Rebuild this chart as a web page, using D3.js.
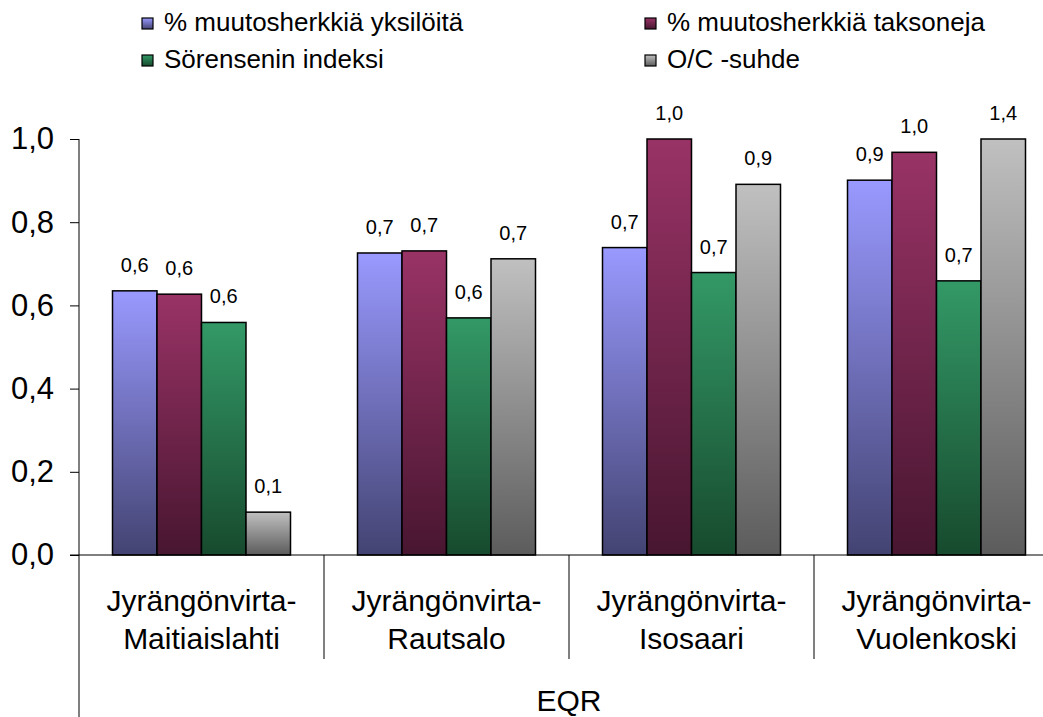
<!DOCTYPE html>
<html>
<head>
<meta charset="utf-8">
<script src="https://cdn.jsdelivr.net/npm/d3@7"></script>
<style>
  html, body { margin: 0; padding: 0; background: #fff; }
  svg { display: block; font-family: "Liberation Sans", Arial, sans-serif; }
</style>
</head>
<body>
<svg id="chart" width="1043" height="717"></svg>
<script>
// Sites (two-line labels) and indices per site
const categories = [
  ["Jyrängönvirta-", "Maitiaislahti"],
  ["Jyrängönvirta-", "Rautsalo"],
  ["Jyrängönvirta-", "Isosaari"],
  ["Jyrängönvirta-", "Vuolenkoski"]
];
const seriesNames = [
  "% muutosherkkiä yksilöitä",
  "% muutosherkkiä taksoneja",
  "Sörensenin indeksi",
  "O/C -suhde"
];
const yksiloita = [0.635, 0.726, 0.739, 0.901];
const taksoneja = [0.627, 0.731, 1.02, 0.968];
const sorensen  = [0.559, 0.570, 0.679, 0.659];
const ocSuhde   = [0.103, 0.712, 0.891, 1.40];
const yTicks = [0, 0.2, 0.4, 0.6, 0.8, 1.0];
const axisTitle = "EQR";

const seriesValues = [yksiloita, taksoneja, sorensen, ocSuhde];
const topColors = ["#9999ff", "#993366", "#339966", "#c0c0c0"];
const bottomColors = ["#434372", "#481630", "#174a2e", "#5c5c5c"];

const svg = d3.select("#chart");
const axisX = 79, plotTop = 139, plotBottom = 555, plotRight = 1059;
const comma = v => d3.format(".1f")(v).replace(".", ",");

// vertical gradients, one per series
const defs = svg.append("defs");
seriesNames.forEach((s, i) => {
  const g = defs.append("linearGradient").attr("id", "grad" + i)
    .attr("x1", 0).attr("y1", 0).attr("x2", 0).attr("y2", 1);
  g.append("stop").attr("offset", "0%").attr("stop-color", topColors[i]);
  g.append("stop").attr("offset", "100%").attr("stop-color", bottomColors[i]);
});

const y = d3.scaleLinear().domain([0, 1]).range([plotBottom, plotTop]).clamp(true);
const x0 = d3.scaleBand().domain(d3.range(categories.length)).range([axisX, plotRight]);
const x1 = d3.scaleBand().domain(d3.range(seriesNames.length))
  .range([33.5, x0.bandwidth() - 33.5]);

// bars
const groups = svg.append("g").selectAll("g")
  .data(categories.map((c, ci) => ci))
  .join("g")
  .attr("transform", ci => `translate(${x0(ci)},0)`);

groups.selectAll("rect")
  .data(ci => seriesValues.map((vals, si) => ({ si, v: vals[ci] })))
  .join("rect")
  .attr("x", d => x1(d.si))
  .attr("y", d => y(d.v))
  .attr("width", x1.bandwidth())
  .attr("height", d => plotBottom - y(d.v))
  .attr("fill", d => `url(#grad${d.si})`)
  .attr("stroke", "#000")
  .attr("stroke-width", 1.5);

// value labels
groups.selectAll("text")
  .data(ci => seriesValues.map((vals, si) => ({ si, v: vals[ci] })))
  .join("text")
  .attr("x", d => x1(d.si) + x1.bandwidth() / 2)
  .attr("y", d => y(d.v) - 19)
  .attr("text-anchor", "middle")
  .attr("font-size", 20)
  .attr("fill", "#000")
  .text(d => comma(d.v));

// y axis
const yAxis = svg.append("g")
  .attr("transform", `translate(${axisX},0)`)
  .call(d3.axisLeft(y).tickValues(yTicks).tickSize(9).tickPadding(16).tickFormat(comma));
yAxis.select(".domain").remove();
yAxis.selectAll(".tick line").attr("stroke", "#000").attr("stroke-width", 1);
yAxis.selectAll(".tick text")
  .style("font-size", "31px")
  .style("font-family", "'Liberation Sans', Arial, sans-serif")
  .attr("fill", "#000");

svg.append("line")
  .attr("x1", axisX).attr("x2", axisX)
  .attr("y1", plotTop).attr("y2", 717)
  .attr("stroke", "#000").attr("stroke-width", 1);

// x axis baseline and group separators
svg.append("line")
  .attr("x1", axisX - 9).attr("x2", plotRight)
  .attr("y1", plotBottom).attr("y2", plotBottom)
  .attr("stroke", "#000").attr("stroke-width", 1);

svg.append("g").selectAll("line")
  .data(d3.range(1, categories.length + 1))
  .join("line")
  .attr("x1", i => x0(i) ?? plotRight).attr("x2", i => x0(i) ?? plotRight)
  .attr("y1", plotBottom).attr("y2", 659)
  .attr("stroke", "#000").attr("stroke-width", 1);

// category labels
const catLabels = svg.append("g").selectAll("text")
  .data(categories)
  .join("text")
  .attr("text-anchor", "middle")
  .attr("font-size", 30)
  .attr("fill", "#000");
catLabels.each(function (c, i) {
  const t = d3.select(this);
  c.forEach((line, li) => {
    t.append("tspan")
      .attr("x", x0(i) + x0.bandwidth() / 2)
      .attr("y", 611 + li * 38)
      .text(line);
  });
});

svg.append("text")
  .attr("x", (axisX + plotRight) / 2)
  .attr("y", 711)
  .attr("text-anchor", "middle")
  .attr("font-size", 30)
  .attr("fill", "#000")
  .text(axisTitle);

// legend
const legendPos = [[142, 18], [645, 18], [142, 55], [645, 55]];
const legend = svg.append("g").selectAll("g")
  .data(seriesNames)
  .join("g")
  .attr("transform", (d, i) => `translate(${legendPos[i][0]},${legendPos[i][1]})`);
legend.append("rect")
  .attr("width", 11).attr("height", 11)
  .attr("fill", (d, i) => `url(#grad${i})`)
  .attr("stroke", "#000").attr("stroke-width", 1.2);
legend.append("text")
  .attr("x", 22).attr("y", 13)
  .attr("font-size", 26)
  .attr("fill", "#000")
  .text(d => d);
</script>
</body>
</html>
